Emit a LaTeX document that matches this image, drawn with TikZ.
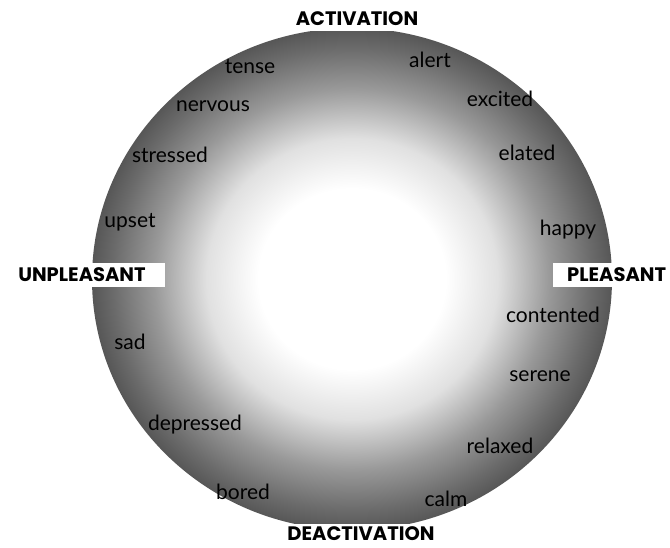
\documentclass[tikz,border=0pt]{standalone}
\usepackage{fontspec}
\setmainfont{Lato}
\newfontfamily\labelfont{Poppins}
\usetikzlibrary{positioning}
\pgfdeclareradialshading{mood}{\pgfpoint{0bp}{0bp}}{%
  color(0bp)=(white); color(9bp)=(white); color(14bp)=(black!12);
  color(19bp)=(black!40); color(23bp)=(black!58); color(25bp)=(black!66);
  color(50bp)=(black!66)}
\tikzset{
  % Etichette degli assi
  axis label/.style={fill=white,inner sep=0pt,minimum height=24pt,
    font=\fontsize{19.5}{21}\labelfont\bfseries},
  % Parole delle emozioni
  mood word/.style={inner sep=0pt,font=\fontsize{21}{23}\selectfont}
}
\begin{document}
\begin{tikzpicture}[x=1pt,y=-1pt]
\useasboundingbox (0,0) rectangle (670,548);

% Cerchio sfumato
\shade[shading=mood] (352,279) ellipse [x radius=260pt, y radius=251pt];

% Assi
\node[axis label,minimum width=134pt] (act) at (357,19) {ACTIVATION};
\node[axis label,minimum width=157pt,minimum height=20pt] (deact) at (361,534) {DEACTIVATION};
\node[axis label,minimum width=165pt] (unpl) at (82,275) {UNPLEASANT};
\node[axis label,anchor=west,inner xsep=14pt] (pleas) at (553,275) {PLEASANT};

% Parole
\node[mood word] (tense) at (250,67) {tense};
\node[mood word] (alert) at (430,60) {alert};
\node[mood word] (nervous) at (213,106) {nervous};
\node[mood word] (excited) at (500,99) {excited};
\node[mood word] (stressed) at (170,155) {stressed};
\node[mood word] (elated) at (527,153) {elated};
\node[mood word] (upset) at (130,222) {upset};
\node[mood word] (happy) at (568,230) {happy};
\node[mood word] (sad) at (130,342) {sad};
\node[mood word] (contented) at (553,315) {contented};
\node[mood word] (serene) at (540,376) {serene};
\node[mood word] (depressed) at (195,425) {depressed};
\node[mood word] (relaxed) at (500,446) {relaxed};
\node[mood word] (bored) at (243,492) {bored};
\node[mood word] (calm) at (446,499) {calm};

\end{tikzpicture}
\end{document}
